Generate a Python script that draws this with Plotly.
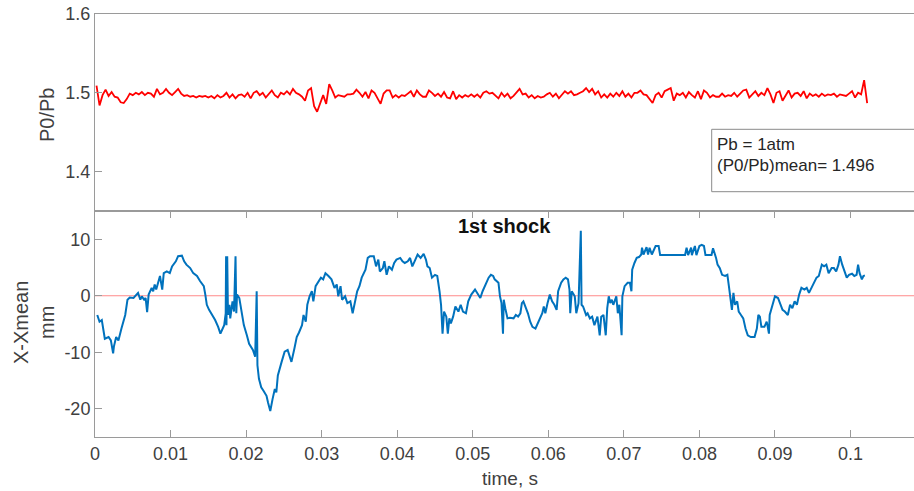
import plotly.graph_objects as go

# ---------------- data ----------------
# P0/Pb, sampled every 0.0004 s starting at 0.0002 s
red_t0 = 0.0002
red_dt = 0.0004
p_ratio = [
    1.509,1.484,1.497,1.504,1.496,1.501,1.495,1.494,1.488,1.487,
    1.492,1.499,1.497,1.500,1.498,1.501,1.497,1.500,1.499,1.495,
    1.505,1.498,1.500,1.505,1.500,1.497,1.501,1.505,1.499,1.496,
    1.497,1.495,1.496,1.494,1.496,1.495,1.496,1.494,1.496,1.493,
    1.497,1.494,1.496,1.500,1.494,1.498,1.493,1.497,1.498,1.495,
    1.500,1.493,1.500,1.502,1.497,1.500,1.494,1.499,1.503,1.497,
    1.494,1.500,1.498,1.502,1.498,1.505,1.500,1.498,1.495,1.490,
    1.503,1.506,1.483,1.476,1.488,1.497,1.486,1.511,1.503,1.494,
    1.497,1.496,1.495,1.498,
    1.498,1.499,1.504,1.500,1.495,1.501,1.493,1.503,1.500,1.493,
    1.486,1.499,1.503,1.503,1.494,1.497,1.494,1.497,1.496,1.499,
    1.502,1.495,1.503,1.498,1.495,1.495,1.503,1.500,1.496,1.499,
    1.495,1.501,1.494,1.493,1.502,1.492,1.497,1.494,1.497,1.495,
    1.498,1.495,1.498,1.494,1.500,1.502,1.499,1.500,1.497,1.493,
    1.500,1.495,1.499,1.493,1.496,1.500,1.505,1.498,1.499,1.494,
    1.497,1.493,1.496,1.494,1.495,1.498,1.500,1.495,1.499,1.493,
    1.498,1.502,1.499,1.502,1.497,1.498,1.500,1.502,1.506,1.501,
    1.505,1.498,1.502,1.494,1.498,
    1.494,1.499,1.495,1.500,1.496,1.502,1.495,1.499,1.494,1.500,
    1.500,1.503,1.498,1.497,1.492,1.487,1.497,1.500,1.494,1.502,
    1.504,1.506,1.490,1.499,1.497,1.500,1.494,1.501,1.497,1.494,
    1.502,1.492,1.503,1.500,1.494,1.497,1.495,1.495,1.499,1.495,
    1.497,1.496,1.500,1.495,1.499,1.503,1.504,1.494,1.498,1.502,
    1.496,1.500,1.497,1.506,1.498,1.487,1.500,1.502,1.490,1.497,
    1.503,1.494,1.499,1.500,1.496,1.502,1.493,1.499,1.496,1.498,
    1.495,1.499,1.496,1.498,1.497,1.499,1.495,1.498,1.497,1.496,
    1.499,1.502,1.494,1.500,1.498,1.516,1.487,
]
red_time = [round(red_t0 + red_dt * i, 5) for i in range(len(p_ratio))]

# shock position relative to mean (mm)
shock_time = [
    0.0003,0.0006,0.0009,0.0013,0.0018,0.0021,0.0024,0.0025,0.0028,0.0031,
    0.0035,0.0040,0.0043,0.0046,0.0051,0.0055,0.0057,0.0060,0.0062,0.0065,
    0.0067,0.0069,0.0071,0.0075,0.0077,0.0079,0.0081,0.0086,0.0089,0.0091,
    0.0095,0.0099,0.0102,0.0107,0.0110,0.0115,0.0118,0.0121,0.0126,0.0130,
    0.0135,0.0139,0.0144,0.0146,0.0148,0.0151,0.0155,0.0159,0.0163,0.0166,
    0.0169,0.0171,0.0173,0.01735,0.0174,0.0175,0.0176,0.0178,0.0179,0.0182,
    0.0184,0.0186,0.0187,0.0188,0.0191,0.0194,0.0197,0.0201,0.0204,0.0209,
    0.0212,0.0214,0.0215,0.0217,0.0220,0.0223,0.0227,0.0229,0.0232,0.0235,
    0.0238,0.0240,0.0242,0.0247,0.0251,0.0255,0.0260,0.0264,0.0267,0.0270,
    0.0274,0.0276,0.0279,0.0281,0.0284,0.0287,0.0289,0.0292,0.0296,0.0299,
    0.0302,0.0305,0.0309,0.0313,0.0317,0.0320,0.0322,0.0325,0.0327,0.0331,
    0.0334,0.0338,0.0341,0.0344,0.0347,0.0350,0.0353,0.0358,0.0361,0.0364,
    0.0369,0.0372,0.0375,0.0377,0.0381,0.0383,0.0386,0.0389,0.0393,0.0396,
    0.0399,0.0404,0.0407,0.0410,0.0414,0.0417,0.0420,0.0423,0.0427,0.0431,
    0.0435,0.0438,0.0440,0.0443,0.0446,0.0450,0.0453,0.0456,0.0458,0.0460,
    0.0462,0.0465,0.0467,0.0469,0.0471,0.0474,0.0477,0.0481,0.0484,0.0487,
    0.0491,0.0494,0.0498,0.0503,0.0507,0.0510,0.0513,0.0516,0.0521,0.0524,
    0.0527,0.0529,0.0534,0.0536,0.0538,0.0540,0.0541,0.0543,0.0546,0.0549,
    0.0554,0.0557,0.0560,0.0563,0.0565,0.0567,0.0570,0.0573,0.0576,0.0579,
    0.0583,0.0586,0.0589,0.0592,0.0594,0.0596,0.0599,0.0602,0.0605,0.0608,
    0.0611,0.0613,0.0617,0.0620,0.0623,0.0626,0.0628,0.0629,0.0631,0.0633,
    0.0635,0.0637,0.0640,0.0643,0.0644,0.0646,0.0650,0.0652,0.0655,0.0658,
    0.0661,0.0665,0.0668,0.0670,0.0673,0.0676,0.0678,0.0680,0.0682,0.0684,
    0.0686,0.0690,0.0692,0.0694,0.0697,0.0698,0.0701,0.0705,0.0708,0.0710,
    0.0711,0.0714,0.0717,0.0720,0.0723,0.0724,0.0726,0.0730,0.0732,0.0734,
    0.0737,0.0742,0.0746,0.0748,0.0781,0.0783,0.0785,0.0789,0.0790,0.0794,
    0.0796,0.0800,0.0803,0.0806,0.0808,0.0816,0.0818,0.0822,0.0824,0.0827,
    0.0830,0.0834,0.0837,0.0839,0.0841,0.0843,0.0845,0.0847,0.0850,0.0852,
    0.0855,0.0858,0.0861,0.0864,0.0868,0.0873,0.0876,0.0878,0.0880,0.0882,
    0.0886,0.0889,0.0890,0.0892,0.0893,0.0897,0.0900,0.0904,0.0907,0.0910,
    0.0913,0.0917,0.0920,0.0923,0.0926,0.0929,0.0932,0.0935,0.0939,0.0942,
    0.0945,0.0949,0.0952,0.0955,0.0958,0.0962,0.0965,0.0968,0.0971,0.0975,
    0.0978,0.0981,0.0984,0.0986,0.0989,0.0992,0.0995,0.0998,0.1002,0.1005,
    0.1008,0.1010,0.1012,0.1015,0.1017,0.1019,
]
shock_dx = [
    -3.4,-4.6,-4.3,-7.6,-7.3,-7.9,-10.2,-9.0,-7.3,-7.9,
    -5.8,-3.4,-0.7,-0.3,-0.4,0.2,0.5,-0.7,-0.1,-0.7,
    -0.4,-2.9,0.2,1.4,0.8,2.0,1.1,3.5,1.1,4.0,
    4.3,4.0,5.2,6.1,7.0,7.1,6.1,5.5,4.9,4.0,
    3.5,2.6,1.7,0.2,-1.6,-2.5,-3.4,-4.3,-5.5,-6.7,
    -5.8,-5.2,-3.1,7.0,-5.2,7.0,-3.4,-1.6,-4.0,-1.0,
    -2.8,7.0,-3.1,0.2,-0.4,-2.8,-5.2,-7.0,-8.5,-9.6,
    -10.8,0.8,-12.3,-14.7,-16.2,-16.8,-17.7,-18.9,-20.4,-18.3,
    -16.5,-17.1,-14.1,-11.7,-9.9,-9.6,-11.7,-9.3,-7.3,-6.5,
    -5.2,-3.4,-4.6,-1.6,-0.1,0.8,-1.0,1.7,2.6,3.2,
    2.9,4.0,3.5,2.9,1.4,2.0,-0.1,1.7,-0.7,-0.1,
    -1.3,-1.0,-3.1,-1.0,0.8,1.7,3.2,4.6,6.7,7.0,
    7.0,5.2,6.4,4.3,4.9,6.1,3.7,5.2,4.6,5.8,
    6.4,6.7,6.1,5.8,6.1,6.7,5.2,6.1,7.3,6.7,
    7.4,6.4,5.2,4.9,3.2,3.7,3.5,0.8,-1.6,-6.7,
    -2.8,-3.7,-6.7,-4.0,-4.9,-3.7,-1.9,-2.8,-1.6,-2.8,
    -3.1,-1.0,0.2,1.1,0.2,-0.4,0.8,1.7,3.2,3.7,
    3.5,2.9,2.3,-0.1,-1.3,-6.7,-0.7,-2.2,-4.0,-3.9,
    -4.0,-3.4,-3.7,-3.1,-1.3,-1.0,-1.9,-3.1,-4.6,-5.5,
    -5.8,-4.9,-4.3,-3.1,-1.9,-3.1,-1.3,0.2,-1.0,-1.6,
    -2.5,0.8,2.3,2.9,3.2,2.9,1.1,-3.1,0.8,0.2,
    -0.1,-3.1,-1.3,11.5,-1.6,-1.9,-3.4,-3.1,-4.0,-3.7,
    -5.2,-3.7,-7.0,-3.7,-3.4,-7.0,-2.2,-0.1,-1.3,-0.7,
    -1.6,-0.1,-3.1,-1.6,-7.0,-0.1,1.7,2.3,2.3,0.8,
    4.6,5.8,6.7,6.85,7.3,8.5,7.3,8.6,7.3,8.5,
    7.3,8.8,8.8,7.2,7.2,8.5,7.2,8.5,7.2,8.8,
    7.2,8.8,9.0,8.8,7.2,7.2,8.4,6.7,5.5,4.9,
    3.7,3.5,3.7,1.7,-0.1,-2.5,0.5,-1.6,-1.0,-2.8,
    -3.4,-4.0,-5.8,-7.0,-7.3,-7.3,-5.8,-3.4,-3.7,-5.5,
    -5.5,-4.6,-5.2,-6.7,-3.4,-1.6,-0.1,-0.4,-1.6,-2.5,
    -2.8,-3.4,-1.6,-2.2,-1.0,-1.6,0.2,1.4,1.1,1.4,
    0.5,1.7,2.3,3.2,3.5,5.5,5.2,5.5,4.0,4.9,
    4.9,4.3,5.5,7.0,5.5,4.3,3.2,3.7,3.9,3.5,
    3.7,5.5,4.0,2.9,3.5,3.6,
]

x_tick_vals = [0, 0.01, 0.02, 0.03, 0.04, 0.05, 0.06, 0.07, 0.08, 0.09, 0.1]
x_tick_text = ["0", "0.01", "0.02", "0.03", "0.04", "0.05", "0.06", "0.07", "0.08", "0.09", "0.1"]
top_y_ticks = [1.4, 1.5, 1.6]
top_y_text = ["1.4", "1.5", "1.6"]
bot_y_ticks = [-20, -10, 0, 10]
bot_y_text = ["-20", "-10", "0", "10"]

title_bottom = "1st shock"
box_lines = ["Pb = 1atm", "(P0/Pb)mean= 1.496"]

# ---------------- figure ----------------
W, H = 914, 491
ML, MR, MT, MB = 95, 0, 14, 54
PW, PH = W - ML - MR, H - MT - MB


def px_x(px):
    return (px - ML) / PW


def px_y(py):
    return (H - MB - py) / PH


split = px_y(211)
FONT = "Liberation Sans, Arial, sans-serif"
AX = "#9a9a9a"
TXT = "#404040"
XR = [0, 0.1084]

fig = go.Figure()
fig.add_trace(go.Scatter(x=red_time, y=p_ratio, mode="lines",
                         line=dict(color="#ff0000", width=1.8),
                         xaxis="x", yaxis="y", showlegend=False, hoverinfo="skip"))
fig.add_trace(go.Scatter(x=[XR[0], XR[1]], y=[0, 0], mode="lines",
                         line=dict(color="#ff8a8a", width=1.2),
                         xaxis="x2", yaxis="y2", showlegend=False, hoverinfo="skip"))
fig.add_trace(go.Scatter(x=shock_time, y=shock_dx, mode="lines",
                         line=dict(color="#0072BD", width=2),
                         xaxis="x2", yaxis="y2", showlegend=False, hoverinfo="skip"))

common_axis = dict(showgrid=False, zeroline=False, showline=True, linecolor=AX,
                   linewidth=1, tickcolor=AX, ticklen=7, tickwidth=1,
                   tickfont=dict(family=FONT, size=18, color=TXT))

fig.update_layout(
    width=W, height=H,
    margin=dict(l=ML, r=MR, t=MT, b=MB, pad=0),
    paper_bgcolor="white", plot_bgcolor="white",
    font=dict(family=FONT, color=TXT),
    xaxis=dict(domain=[0, 1], range=XR, anchor="y", showticklabels=False,
               ticks="", mirror=True, showgrid=False, zeroline=False,
               showline=True, linecolor=AX, linewidth=1),
    yaxis=dict(domain=[split, 1], range=[1.35, 1.6], anchor="x",
               tickvals=top_y_ticks, ticktext=top_y_text, ticks="inside",
               **common_axis),
    xaxis2=dict(domain=[0, 1], range=XR, anchor="y2", tickvals=x_tick_vals,
                ticktext=x_tick_text, ticks="inside", mirror="ticks",
                **common_axis),
    yaxis2=dict(domain=[0, split], range=[-25, 15], anchor="x2",
                tickvals=bot_y_ticks, ticktext=bot_y_text, ticks="inside",
                **common_axis),
)

# legend-like text box
fig.add_shape(type="rect", xref="paper", yref="paper",
              x0=px_x(711.7), x1=px_x(930), y0=px_y(191.7), y1=px_y(129.3),
              line=dict(color="#8a8a8a", width=1), fillcolor="white")
fig.add_annotation(text=box_lines[0], xref="paper", yref="paper",
                   x=px_x(715), y=px_y(144), xanchor="left", yanchor="middle",
                   showarrow=False, font=dict(family=FONT, size=17, color="#262626"))
fig.add_annotation(text=box_lines[1], xref="paper", yref="paper",
                   x=px_x(715), y=px_y(165.5), xanchor="left", yanchor="middle",
                   showarrow=False, font=dict(family=FONT, size=17, color="#262626"))

# titles
fig.add_annotation(text="<b>" + title_bottom + "</b>", xref="paper", yref="paper",
                   x=px_x(504), y=px_y(226), xanchor="center", yanchor="middle",
                   showarrow=False, font=dict(family=FONT, size=20, color="#111111"))
fig.add_annotation(text="time, s", xref="paper", yref="paper",
                   x=px_x(510), y=px_y(478), xanchor="center", yanchor="middle",
                   showarrow=False, font=dict(family=FONT, size=19, color=TXT))
fig.add_annotation(text="P0/Pb", xref="paper", yref="paper",
                   x=px_x(47), y=px_y(115), xanchor="center", yanchor="middle",
                   textangle=-90, showarrow=False,
                   font=dict(family=FONT, size=20, color=TXT))
fig.add_annotation(text="X-Xmean<br>mm", xref="paper", yref="paper",
                   x=px_x(34), y=px_y(323), xanchor="center", yanchor="middle",
                   textangle=-90, showarrow=False,
                   font=dict(family=FONT, size=20, color=TXT))

fig.write_html("out.html")
